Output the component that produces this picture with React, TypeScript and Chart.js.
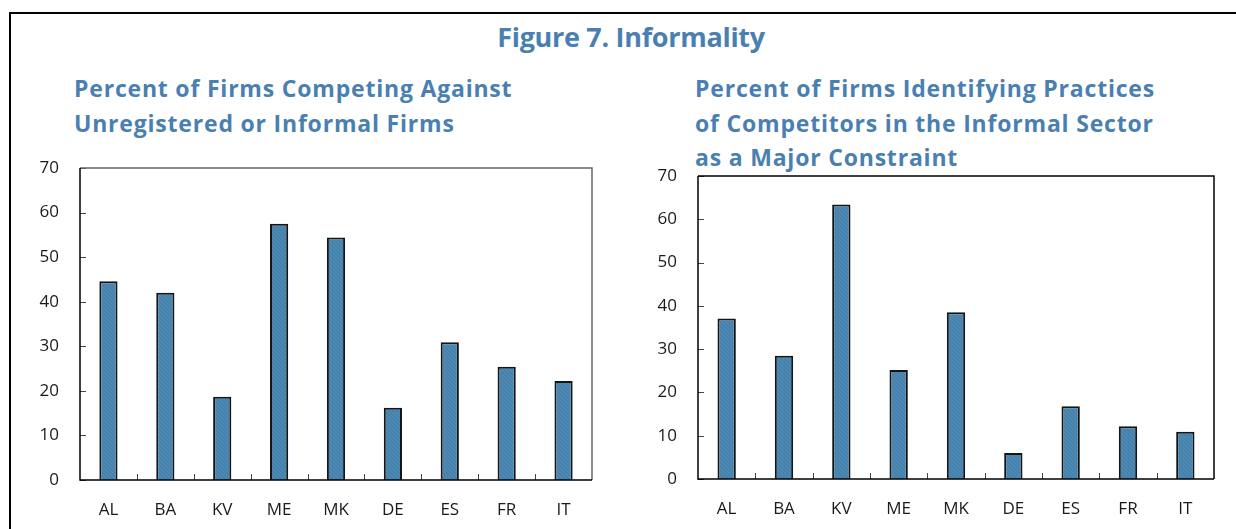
import React, { useEffect, useRef } from "react";
import { Chart, registerables } from "chart.js";

Chart.register(...registerables);

// ---- data ----
const categories = ["AL", "BA", "KV", "ME", "MK", "DE", "ES", "FR", "IT"];
const competingValues = [44.6, 42.0, 18.7, 57.5, 54.4, 16.2, 30.9, 25.4, 22.2];
const constraintValues = [37.1, 28.5, 63.4, 25.2, 38.5, 6.0, 16.8, 12.2, 10.9];
const yTicks = [0, 10, 20, 30, 40, 50, 60, 70];
const figureTitle = "Figure 7. Informality";
const leftTitle = ["Percent of Firms Competing Against", "Unregistered or Informal Firms"];
const rightTitle = [
  "Percent of Firms Identifying Practices",
  "of Competitors in the Informal Sector",
  "as a Major Constraint",
];

const TITLE_COLOR = "#4a7fb2";
const FONT = "'Open Sans', 'Noto Sans', sans-serif";

function makePattern(): CanvasPattern | string {
  const c = document.createElement("canvas");
  c.width = 4;
  c.height = 4;
  const g = c.getContext("2d");
  if (!g) return "#4a87b2";
  g.fillStyle = "#4b88b3";
  g.fillRect(0, 0, 4, 4);
  g.strokeStyle = "rgba(35,80,120,0.22)";
  g.lineWidth = 1;
  g.beginPath();
  g.moveTo(0, 0);
  g.lineTo(4, 4);
  g.stroke();
  const p = g.createPattern(c, "repeat");
  return p || "#4a87b2";
}

const framePlugin = {
  id: "frame",
  afterDatasetsDraw(chart: any, _args: any, opts: any) {
    const { ctx, chartArea: a, scales } = chart;
    const xs = scales.x;
    const ys = scales.y;
    ctx.save();
    ctx.strokeStyle = "#444";
    ctx.lineWidth = 1;
    ctx.beginPath();
    for (const v of yTicks) {
      const py = Math.round(ys.getPixelForValue(v)) + 0.5;
      ctx.moveTo(a.left, py);
      ctx.lineTo(a.left + 6, py);
    }
    for (let i = 1; i < categories.length; i++) {
      const px = Math.round((xs.getPixelForValue(i - 1) + xs.getPixelForValue(i)) / 2) + 0.5;
      ctx.moveTo(px, a.bottom);
      ctx.lineTo(px, a.bottom - 6);
    }
    ctx.stroke();
    ctx.strokeStyle = (opts && opts.topColor) || "#000";
    ctx.lineWidth = 1.5;
    ctx.beginPath();
    ctx.moveTo(a.left, a.top);
    ctx.lineTo(a.right, a.top);
    ctx.lineTo(a.right, a.bottom);
    ctx.stroke();
    ctx.strokeStyle = "#000";
    ctx.lineWidth = 1.5;
    ctx.beginPath();
    ctx.moveTo(a.left, a.top);
    ctx.lineTo(a.left, a.bottom);
    ctx.lineTo(a.right, a.bottom);
    ctx.stroke();
    ctx.restore();
  },
};

type PanelProps = {
  values: number[];
  left: number;
  top: number;
  width: number;
  height: number;
  padTop: number;
  padRight: number;
  yWidth: number;
  xHeight: number;
  topColor: string;
};

function BarPanel(props: PanelProps) {
  const ref = useRef<HTMLCanvasElement | null>(null);
  useEffect(() => {
    if (!ref.current) return;
    const pattern = makePattern();
    const chart = new Chart(ref.current, {
      type: "bar",
      data: {
        labels: categories,
        datasets: [
          {
            data: props.values,
            backgroundColor: pattern as any,
            borderColor: "#151515",
            borderWidth: { top: 2, left: 2, right: 2, bottom: 0 },
            borderSkipped: false,
            categoryPercentage: 1,
            barPercentage: 0.32,
          },
        ],
      },
      options: {
        animation: false,
        responsive: false,
        devicePixelRatio: 1,
        layout: { padding: { top: props.padTop, right: props.padRight, left: 0, bottom: 0 } },
        plugins: {
          legend: { display: false },
          tooltip: { enabled: false },
          frame: { topColor: props.topColor },
        } as any,
        scales: {
          x: {
            offset: true,
            grid: { display: false, drawTicks: true, tickLength: 20 },
            border: { display: false },
            ticks: {
              padding: 0,
              color: "#1a1a1a",
              font: { family: FONT, size: 17 },
              maxRotation: 0,
              autoSkip: false,
            },
            afterFit: (s: any) => {
              s.height = props.xHeight;
            },
          },
          y: {
            min: 0,
            max: 70,
            grid: { display: false, drawTicks: true, tickLength: 21 },
            border: { display: false },
            afterBuildTicks: (s: any) => {
              s.ticks = yTicks.map((v) => ({ value: v }));
            },
            ticks: {
              padding: 0,
              color: "#1a1a1a",
              font: { family: FONT, size: 17 },
            },
            afterFit: (s: any) => {
              s.width = props.yWidth;
            },
          },
        },
      },
      plugins: [framePlugin as any],
    });
    return () => chart.destroy();
  }, []);
  return (
    <canvas
      ref={ref}
      width={props.width}
      height={props.height}
      style={{
        position: "absolute",
        left: props.left,
        top: props.top,
        width: props.width,
        height: props.height,
      }}
    />
  );
}

const subStyle: React.CSSProperties = {
  position: "absolute",
  fontFamily: FONT,
  fontWeight: 700,
  fontSize: 23,
  lineHeight: "34.5px",
  color: TITLE_COLOR,
  whiteSpace: "nowrap",
  letterSpacing: "0.8px",
};

export default function App() {
  return (
    <div
      style={{
        position: "fixed",
        left: 0,
        top: 0,
        width: 1236,
        height: 529,
        overflow: "hidden",
        background: "#fff",
      }}
    >
      <div
        style={{
          position: "absolute",
          left: 9,
          top: 12,
          width: 1400,
          height: 700,
          borderTop: "2px solid #000",
          borderLeft: "2px solid #000",
        }}
      />
      <div
        style={{
          position: "absolute",
          left: 431,
          top: 23,
          width: 400,
          textAlign: "center",
          fontFamily: FONT,
          fontWeight: 700,
          fontSize: 27,
          lineHeight: 1,
          color: TITLE_COLOR,
          whiteSpace: "nowrap",
          letterSpacing: "-0.3px",
        }}
      >
        {figureTitle}
      </div>
      <div style={{ ...subStyle, left: 74, top: 71 }}>
        {leftTitle.map((t, i) => (
          <div key={i}>{t}</div>
        ))}
      </div>
      <div style={{ ...subStyle, left: 695, top: 71 }}>
        {rightTitle.map((t, i) => (
          <div key={i}>{t}</div>
        ))}
      </div>
      <BarPanel
        values={competingValues}
        left={0}
        top={150}
        width={610}
        height={379}
        padTop={18}
        padRight={18}
        yWidth={80}
        xHeight={49}
        topColor="#666"
      />
      <BarPanel
        values={constraintValues}
        left={620}
        top={150}
        width={616}
        height={379}
        padTop={26}
        padRight={22}
        yWidth={78}
        xHeight={50}
        topColor="#000"
      />
    </div>
  );
}
